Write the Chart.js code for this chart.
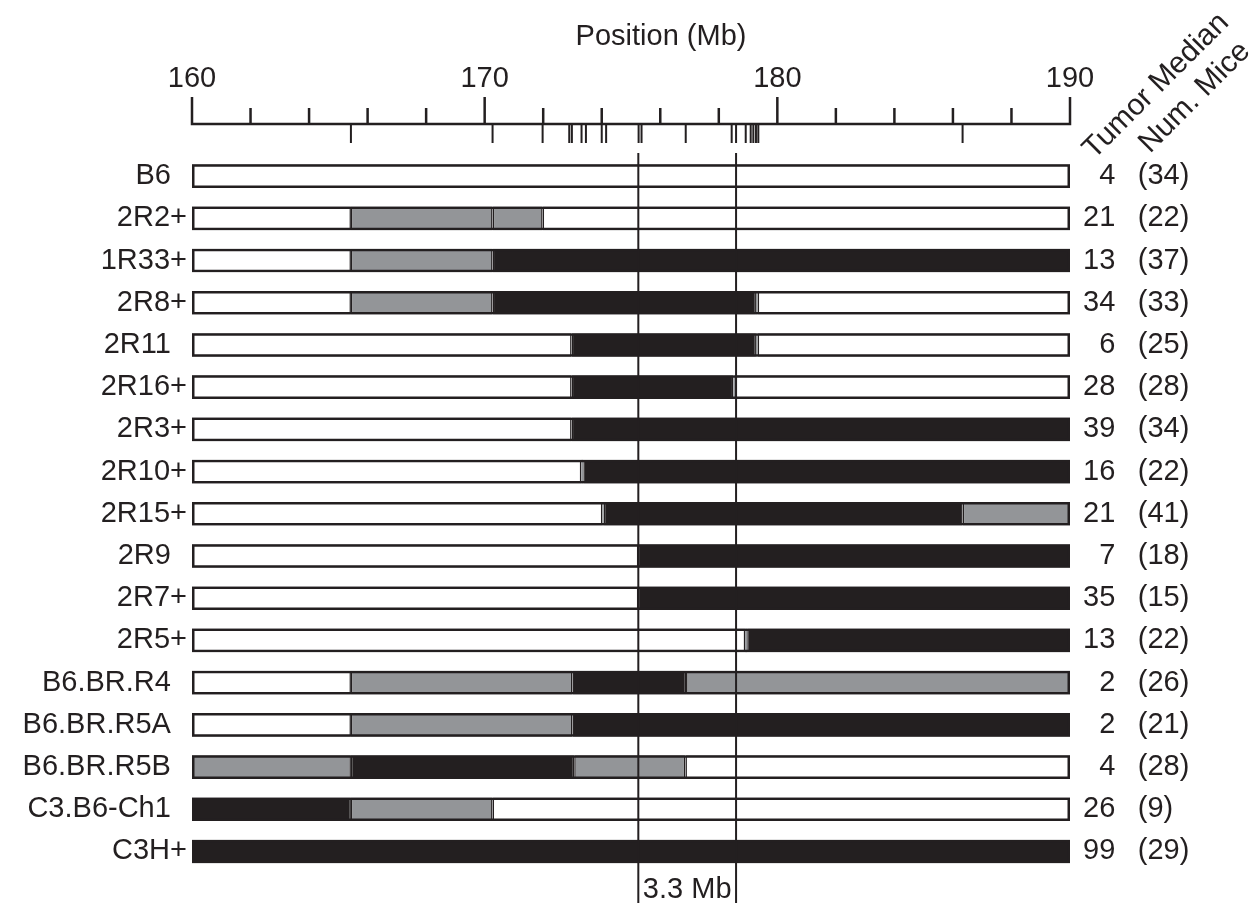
<!DOCTYPE html>
<html>
<head>
<meta charset="utf-8">
<title>Congenic strains - haplotype map</title>
<script src="https://cdn.jsdelivr.net/npm/chart.js@4/dist/chart.umd.min.js"></script>
<style>
  body { margin: 0; background: #fff; }
  #wrap { width: 1259px; height: 903px; }
</style>
</head>
<body>
<div id="wrap"><canvas id="chart"></canvas></div>
<script>
// strains, top to bottom
const strains = ['B6', '2R2+', '1R33+', '2R8+', '2R11', '2R16+', '2R3+', '2R10+', '2R15+', '2R9', '2R7+', '2R5+',
  'B6.BR.R4', 'B6.BR.R5A', 'B6.BR.R5B', 'C3.B6-Ch1', 'C3H+'];
const tumorMedian = [4, 21, 13, 34, 6, 28, 39, 16, 21, 7, 35, 13, 2, 2, 4, 26, 99];
const numMice = [34, 22, 37, 33, 25, 28, 34, 22, 41, 18, 15, 22, 26, 21, 28, 9, 29];

// haplotype blocks per strain: [start Mb, end Mb, genotype]
// W = B6, G = not determined, K = BR / C3H
const blocks = [
  [[160, 190, 'W']],
  [[160, 165.43, 'W'], [165.43, 170.27, 'G'], [170.27, 171.98, 'G'], [171.98, 190, 'W']],
  [[160, 165.43, 'W'], [165.43, 170.27, 'G'], [170.27, 190, 'K']],
  [[160, 165.43, 'W'], [165.43, 170.27, 'G'], [170.27, 179.27, 'K'], [179.27, 179.33, 'G'], [179.33, 190, 'W']],
  [[160, 172.97, 'W'], [172.97, 179.27, 'K'], [179.27, 179.33, 'G'], [179.33, 190, 'W']],
  [[160, 172.97, 'W'], [172.97, 178.5, 'K'], [178.5, 178.56, 'G'], [178.56, 190, 'W']],
  [[160, 172.97, 'W'], [172.97, 190, 'K']],
  [[160, 173.3, 'W'], [173.3, 173.37, 'G'], [173.37, 190, 'K']],
  [[160, 174.02, 'W'], [174.02, 174.07, 'G'], [174.07, 186.33, 'K'], [186.33, 190, 'G']],
  [[160, 175.25, 'W'], [175.25, 190, 'K']],
  [[160, 175.25, 'W'], [175.25, 190, 'K']],
  [[160, 178.9, 'W'], [178.9, 178.97, 'G'], [178.97, 190, 'K']],
  [[160, 165.43, 'W'], [165.43, 173.0, 'G'], [173.0, 176.88, 'K'], [176.88, 190, 'G']],
  [[160, 165.43, 'W'], [165.43, 173.0, 'G'], [173.0, 190, 'K']],
  [[160, 165.43, 'G'], [165.43, 173.06, 'K'], [173.06, 176.86, 'G'], [176.86, 190, 'W']],
  [[160, 165.43, 'K'], [165.43, 170.27, 'G'], [170.27, 190, 'W']],
  [[160, 190, 'K']]
];

// genotyped markers (Mb), drawn below the position axis
const markers = [165.43, 170.27, 171.98, 172.89, 172.98, 173.31, 173.46, 174.0, 174.15, 175.26, 175.36,
  176.87, 178.44, 178.59, 178.92, 179.09, 179.18, 179.27, 179.35, 186.33];
// critical interval
const critical = [175.25, 178.59];

const axisMin = 160, axisMax = 190, majorStep = 10, minorStep = 2;

const ink = '#231f20';
const fill = { W: '#ffffff', G: '#939598', K: ink };
const genotypeName = { W: 'B6', G: 'not determined', K: 'BR / C3H' };
const font = "'Liberation Sans', Arial, Helvetica, sans-serif";

Chart.defaults.font.family = font;
Chart.defaults.color = ink;

const leftLabels = strains.map(s => s.endsWith('+') ? s : s + '\u2007');
const rightLabels = strains.map((s, i) => String(tumorMedian[i]).padStart(2, '\u2007') + '\u2002 (' + numMice[i] + ')');

const barLook = { barPercentage: 0.56, categoryPercentage: 1, grouped: false, borderSkipped: false, borderColor: ink };

const datasets = [{
  label: 'outline',
  data: strains.map(s => ({ y: s, x: [axisMin, axisMax] })),
  backgroundColor: 'rgba(0,0,0,0)',
  borderWidth: 2.5,
  order: 0,
  ...barLook
}];
Object.keys(fill).forEach(code => {
  datasets.push({
    label: genotypeName[code],
    data: blocks.flatMap((row, i) => row.filter(b => b[2] === code).map(b => ({ y: strains[i], x: [b[0], b[1]] }))),
    backgroundColor: fill[code],
    borderWidth: c => (c.raw && c.raw.x[1] - c.raw.x[0] < 0.2 ? 0 : 1.5),
    order: 1,
    ...barLook
  });
});

// axis line, ticks, markers, critical interval and headers
const mapDecor = {
  id: 'mapDecor',
  afterDatasetsDraw(chart) {
    const { ctx, scales: { x } } = chart;
    const axisY = 124;
    ctx.save();
    ctx.strokeStyle = ink;
    ctx.fillStyle = ink;
    ctx.lineCap = 'butt';

    ctx.lineWidth = 2.5;
    ctx.beginPath();
    ctx.moveTo(x.getPixelForValue(axisMin) - 1.25, axisY);
    ctx.lineTo(x.getPixelForValue(axisMax) + 1.25, axisY);
    for (let v = axisMin; v <= axisMax; v += minorStep) {
      const px = x.getPixelForValue(v);
      ctx.moveTo(px, axisY);
      ctx.lineTo(px, v % majorStep === 0 ? 97 : 108);
    }
    ctx.stroke();

    ctx.lineWidth = 2;
    ctx.beginPath();
    markers.forEach(m => {
      const px = x.getPixelForValue(m);
      ctx.moveTo(px, axisY);
      ctx.lineTo(px, 143);
    });
    ctx.stroke();

    ctx.lineWidth = 2;
    ctx.beginPath();
    critical.forEach(m => {
      const px = x.getPixelForValue(m);
      ctx.moveTo(px, 153);
      ctx.lineTo(px, 903);
    });
    ctx.stroke();

    ctx.font = '29px ' + font;
    ctx.textAlign = 'center';
    ctx.textBaseline = 'alphabetic';
    const mid = (x.getPixelForValue(critical[0]) + x.getPixelForValue(critical[1])) / 2;
    ctx.fillText((critical[1] - critical[0]).toFixed(1) + ' Mb', mid, 898);
    ctx.fillText('Position (Mb)', 661, 45);

    ctx.font = '30px ' + font;
    ctx.textAlign = 'left';
    [['Tumor Median', 1094, 160], ['Num. Mice', 1150, 154]].forEach(([t, tx, ty]) => {
      ctx.save();
      ctx.translate(tx, ty);
      ctx.rotate(-Math.PI / 4);
      ctx.fillText(t, 0, 0);
      ctx.restore();
    });
    ctx.restore();
  }
};

new Chart(document.getElementById('chart'), {
  type: 'bar',
  data: { labels: strains, datasets },
  options: {
    indexAxis: 'y',
    responsive: true,
    maintainAspectRatio: false,
    animation: false,
    layout: { padding: { top: 0, bottom: 30, left: 0, right: 0 } },
    plugins: { legend: { display: false }, title: { display: false } },
    scales: {
      x: {
        type: 'linear',
        position: 'top',
        min: axisMin,
        max: axisMax,
        grid: { display: false, drawTicks: false },
        border: { display: false },
        ticks: { stepSize: majorStep, padding: 59, font: { size: 29 }, color: ink, maxRotation: 0 },
        afterFit: s => { s.height = 155; }
      },
      y: {
        type: 'category',
        position: 'left',
        offset: true,
        grid: { display: false, drawTicks: false },
        border: { display: false },
        ticks: { autoSkip: false, padding: 5, font: { size: 29 }, color: ink, callback: (v, i) => leftLabels[i] },
        afterFit: s => { s.width = 192; }
      },
      y2: {
        type: 'category',
        position: 'right',
        labels: rightLabels,
        offset: true,
        grid: { display: false, drawTicks: false },
        border: { display: false },
        ticks: { autoSkip: false, padding: 13, font: { size: 29 }, color: ink },
        afterFit: s => { s.width = 189; }
      }
    }
  },
  plugins: [mapDecor]
});
</script>
</body>
</html>
